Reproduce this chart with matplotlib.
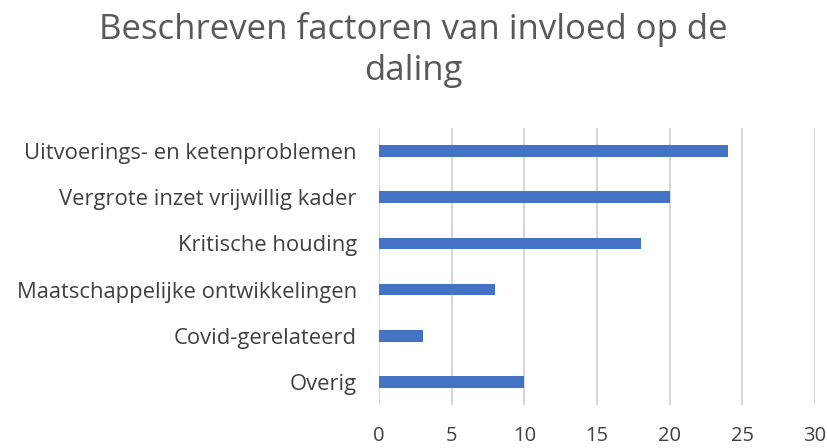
import matplotlib
matplotlib.use("Agg")
import matplotlib.pyplot as plt

categories = ["Uitvoerings- en ketenproblemen", "Vergrote inzet vrijwillig kader",
              "Kritische houding", "Maatschappelijke ontwikkelingen",
              "Covid-gerelateerd", "Overig"]
values = [24, 20, 18, 8, 3, 10]
xticks = [0, 5, 10, 15, 20, 25, 30]

plt.rcParams['font.family'] = ['Open Sans', 'DejaVu Sans']
fig = plt.figure(figsize=(8.27, 4.48), dpi=100)
ax = fig.add_axes([379/827, 1-405/448, (815-379)/827, (405-128)/448])

y = list(range(len(categories)))
ax.barh(y, values, height=0.25, color="#4472C4", zorder=3)
ax.set_ylim(len(categories)-0.5, -0.5)
ax.set_xlim(0, 30)
ax.set_xticks(xticks)
ax.set_xticklabels([str(t) for t in xticks], fontsize=14.5, color="#404040")
ax.set_yticks(y)
ax.set_yticklabels(categories, fontsize=15.8, color="#404040")
ax.tick_params(axis='both', length=0)
ax.tick_params(axis='x', pad=15)
ax.tick_params(axis='y', pad=16)
ax.grid(axis='x', color="#D0D0D0", linewidth=1.2, zorder=0)
for s in ax.spines.values():
    s.set_visible(False)

fig.text(0.5, 1-50/448, "Beschreven factoren van invloed op de\ndaling", ha='center', va='center',
         fontsize=25, color="#595959", linespacing=1.25)

fig.savefig("out.png", dpi=100)
